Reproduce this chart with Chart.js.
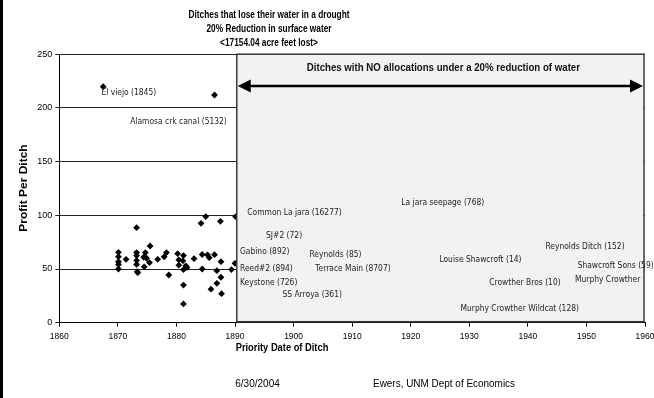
<!DOCTYPE html>
<html>
<head>
<meta charset="utf-8">
<script src="https://cdn.jsdelivr.net/npm/chart.js@4.4.1/dist/chart.umd.min.js"></script>
<style>
  html, body { margin: 0; padding: 0; background: #fff; }
  #wrap { position: relative; width: 654px; height: 398px; }
</style>
</head>
<body>
<div id="wrap"><canvas id="chart"></canvas></div>
<script>
// ---- data ----
const years = [
  1867.5, 1886.5,
  1870.1, 1870.1, 1870.1, 1870.1, 1870.1, 1871.4,
  1873.2, 1873.2, 1873.2, 1873.2, 1873.2, 1873.3, 1873.4,
  1874.5, 1874.7, 1874.4, 1874.9, 1875.5, 1875.4, 1876.8, 1877.9, 1878.3, 1878.7,
  1880.2, 1880.4, 1880.4, 1881.2, 1881.1, 1881.2, 1881.6, 1881.8, 1881.2, 1881.2,
  1883.0, 1884.2, 1885.0, 1884.4, 1884.4, 1885.3, 1885.6, 1886.5, 1885.9,
  1886.9, 1886.9, 1887.5, 1887.6, 1887.6, 1887.7, 1889.4, 1890.1, 1890.0
];
const profits = [
  219.7, 212,
  65.5, 61.5, 56.8, 54.3, 50, 59,
  88.5, 65.3, 62.5, 58, 54.3, 47.5, 46.6,
  52, 65.3, 61, 60, 71.4, 56, 59, 61.3, 65.3, 44.4,
  64.3, 58.5, 53.6, 62.5, 57.6, 49.5, 53, 51.5, 35, 17.5,
  59.6, 92.5, 98.8, 63.5, 50, 63.2, 60.5, 63.3, 31.2,
  48.4, 36.7, 94.4, 56.8, 42.3, 27, 49.5, 98.7, 55.3
];

// ditch name annotations, anchored at (year, profit)
const ditchNames = [
  "El viejo (1845)", "Alamosa crk canal (5132)", "Common La jara (16277)", "SJ#2 (72)",
  "Gabino (892)", "Reynolds (85)", "Reed#2 (894)", "Terrace Main (8707)", "Keystone (726)",
  "SS Arroya (361)", "La jara seepage (768)", "Louise Shawcroft (14)", "Reynolds Ditch (152)",
  "Shawcroft Sons (59)", "Crowther Bros (10)", "Murphy Crowther", "Murphy Crowther Wildcat (128)"
];
const nameYears = [
  1867.2, 1872.1, 1892.1, 1895.3, 1890.85, 1902.7, 1890.85, 1903.7, 1890.85,
  1898.1, 1918.4, 1924.9, 1943.0, 1948.5, 1933.4, 1948.05, 1928.5
];
const nameProfits = [
  214.2, 187.2, 102.1, 80.7, 66.1, 63.0, 50.0, 50.0, 37.0,
  25.5, 111.2, 58.4, 70.8, 52.8, 37.2, 39.8, 13.0
];

const xTickValues = [1860, 1870, 1880, 1890, 1900, 1910, 1920, 1930, 1940, 1950, 1960];
const yTickValues = [0, 50, 100, 150, 200, 250];

// shaded zone: ditches with no allocation
const noAllocStart = 1890.3;
const noAllocEnd = 1960;
const arrowLevel = 220.5;
const noAllocText = "Ditches with NO allocations under a 20% reduction of water";

const titleLines = [
  "Ditches that lose their water in a drought",
  "20% Reduction in surface water",
  "<17154.04 acre feet lost>"
];
const xTitle = "Priority Date of Ditch";
const yTitle = "Profit Per Ditch";
const footDate = "6/30/2004";
const footCredit = "Ewers, UNM Dept of Economics";

// ---- helpers ----
function drawText(ctx, text, x, y, font, align, sx) {
  ctx.save();
  ctx.font = font;
  ctx.textAlign = align;
  ctx.textBaseline = "middle";
  ctx.translate(x, y);
  ctx.scale(sx, 1);
  ctx.fillText(text, 0, 0);
  ctx.restore();
}

// box + arrow + ditch names, drawn over the points
const zonePlugin = {
  id: "zone",
  afterDatasetsDraw(chart) {
    const ctx = chart.ctx;
    const xs = chart.scales.x, ys = chart.scales.y;
    const x1 = xs.getPixelForValue(noAllocStart);
    const x2 = xs.getPixelForValue(noAllocEnd) - 1;
    const y1 = ys.getPixelForValue(250);
    const y2 = ys.getPixelForValue(0) - 1;

    ctx.save();
    ctx.fillStyle = "#f2f2f2";
    ctx.fillRect(x1, y1, x2 - x1, y2 - y1);
    ctx.strokeStyle = "#3a3a3a";
    ctx.lineWidth = 1.5;
    ctx.strokeRect(x1, y1, x2 - x1, y2 - y1);

    // double arrow
    const ay = ys.getPixelForValue(arrowLevel);
    const head = 13, half = 6.5;
    ctx.strokeStyle = "#000";
    ctx.lineWidth = 2.5;
    ctx.beginPath();
    ctx.moveTo(x1 + head - 2, ay);
    ctx.lineTo(x2 - head + 2, ay);
    ctx.stroke();
    ctx.fillStyle = "#000";
    ctx.beginPath();
    ctx.moveTo(x1 + 1, ay);
    ctx.lineTo(x1 + 1 + head, ay - half);
    ctx.lineTo(x1 + 1 + head, ay + half);
    ctx.closePath();
    ctx.fill();
    ctx.beginPath();
    ctx.moveTo(x2 - 1, ay);
    ctx.lineTo(x2 - 1 - head, ay - half);
    ctx.lineTo(x2 - 1 - head, ay + half);
    ctx.closePath();
    ctx.fill();

    ctx.fillStyle = "#111";
    drawText(ctx, noAllocText, (x1 + x2) / 2 + 3, ys.getPixelForValue(236.9),
      'bold 11.5px "Liberation Sans"', "center", 0.84);

    // ditch names
    ctx.fillStyle = "#222";
    ditchNames.forEach((name, i) => {
      drawText(ctx, name, xs.getPixelForValue(nameYears[i]), ys.getPixelForValue(nameProfits[i]),
        '8.3px "DejaVu Sans"', "left", 0.91);
    });
    ctx.restore();
  },
  afterDraw(chart) {
    const ctx = chart.ctx;
    ctx.save();
    ctx.fillStyle = "#000";
    titleLines.forEach((line, i) => {
      drawText(ctx, line, 269, 15.7 + i * 14, 'bold 10px "Liberation Sans"', "center", 0.83);
    });
    drawText(ctx, xTitle, 282, 348, 'bold 11.5px "Liberation Sans"', "center", 0.81);

    ctx.save();
    ctx.translate(24, 188);
    ctx.rotate(-Math.PI / 2);
    ctx.font = 'bold 12px "Liberation Sans"';
    ctx.textAlign = "center";
    ctx.textBaseline = "middle";
    ctx.scale(1, 0.85);
    ctx.fillText(yTitle, 0, 0);
    ctx.restore();

    drawText(ctx, footDate, 257.5, 384, '11.5px "Liberation Sans"', "center", 0.87);
    drawText(ctx, footCredit, 373, 384, '11.5px "Liberation Sans"', "left", 0.865);

    // left frame edge
    ctx.fillRect(0, 0, 3, 398);
    ctx.restore();
  }
};

const points = years.map((y, i) => ({ x: y, y: profits[i] }));

new Chart(document.getElementById("chart"), {
  type: "scatter",
  data: {
    datasets: [{
      label: "Profit",
      data: points,
      pointStyle: "rectRot",
      pointRadius: 3.4,
      pointHoverRadius: 3.4,
      backgroundColor: "#000",
      borderColor: "#000",
      borderWidth: 0
    }]
  },
  options: {
    responsive: true,
    maintainAspectRatio: false,
    animation: false,
    events: [],
    layout: { padding: { top: 54.2, right: 9, left: 0, bottom: 0 } },
    plugins: {
      legend: { display: false },
      tooltip: { enabled: false }
    },
    scales: {
      x: {
        type: "linear",
        min: 1860,
        max: 1960,
        afterBuildTicks: s => { s.ticks = xTickValues.map(v => ({ value: v })); },
        afterFit: s => { s.height = 75.3; s.paddingLeft = 0; s.paddingRight = 0; },
        ticks: {
          callback: v => String(v),
          color: "#000",
          font: { family: '"Liberation Sans Narrow", "Liberation Sans"', size: 8.5 },
          padding: 5,
          maxRotation: 0,
          autoSkip: false
        },
        grid: { drawOnChartArea: false, color: "#000", tickLength: 4 },
        border: { color: "#000", width: 1 }
      },
      y: {
        min: 0,
        max: 250,
        afterBuildTicks: s => { s.ticks = yTickValues.map(v => ({ value: v })); },
        afterFit: s => { s.width = 59.3; s.paddingTop = 0; s.paddingBottom = 0; },
        ticks: {
          color: "#000",
          font: { family: '"Liberation Sans"', size: 9 },
          padding: 3
        },
        grid: { color: "#222", lineWidth: 1, tickLength: 4 },
        border: { color: "#000", width: 1 }
      }
    }
  },
  plugins: [zonePlugin]
});
</script>
</body>
</html>
